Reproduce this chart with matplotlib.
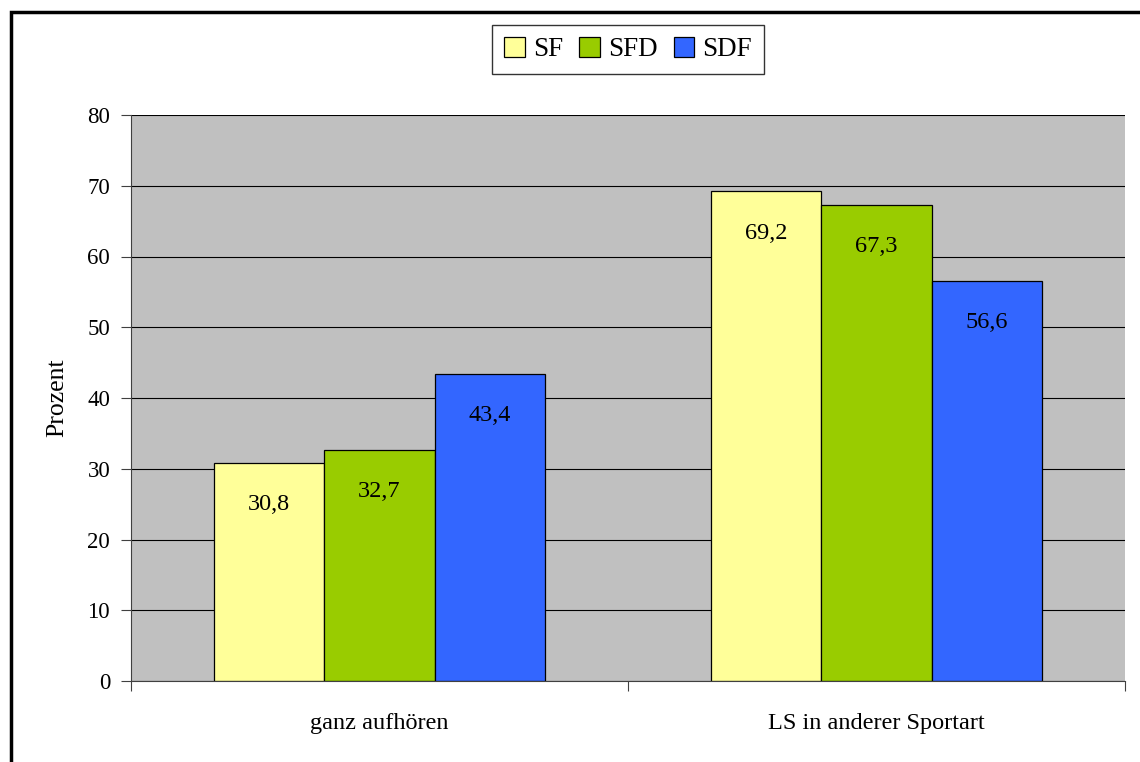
import matplotlib
matplotlib.use("Agg")
import matplotlib.pyplot as plt
from matplotlib.patches import Rectangle
import numpy as np

categories = ["ganz aufhören", "LS in anderer Sportart"]
series_names = ["SF", "SFD", "SDF"]
values_sf = [30.8, 69.2]
values_sfd = [32.7, 67.3]
values_sdf = [43.4, 56.6]
colors = ["#FFFF99", "#99CC00", "#3366FF"]
yticks = [0, 10, 20, 30, 40, 50, 60, 70, 80]

plt.rcParams["font.family"] = ["Liberation Serif", "DejaVu Serif"]

W, H = 1140, 762
fig = plt.figure(figsize=(W / 100, H / 100), dpi=100)

# outer frame (extends past the right and bottom edges)
fig.patches.append(Rectangle((11 / W, -0.05), 1.2, 1 - 12 / H + 0.05,
                             transform=fig.transFigure, fill=False,
                             edgecolor="black", linewidth=2.5))

ax = fig.add_axes([131 / W, (H - 681) / H, 994 / W, 566 / H])
ax.set_facecolor("#C0C0C0")

x = np.arange(len(categories))
bw = 0.2223
series = [values_sf, values_sfd, values_sdf]
for i, (name, vals, col) in enumerate(zip(series_names, series, colors)):
    pos = x + (i - 1) * bw
    bars = ax.bar(pos, vals, width=bw, color=col, edgecolor="black",
                  linewidth=0.9, label=name, zorder=3)
    for b, v in zip(bars, vals):
        ax.annotate(f"{v:.1f}".replace(".", ","),
                    xy=(b.get_x() + b.get_width() / 2, v),
                    xytext=(0, -30), textcoords="offset points",
                    ha="center", va="center", fontsize=17.5, zorder=4)

ax.set_xlim(-0.5, 1.5)
ax.set_ylim(0, 80)
ax.set_yticks(yticks)
ax.yaxis.grid(True, color="black", linewidth=0.8, zorder=1)
ax.set_axisbelow(True)
for s in ["top", "right"]:
    ax.spines[s].set_visible(False)
ax.spines["left"].set_color("#404040")
ax.spines["bottom"].set_color("#404040")
ax.spines["left"].set_zorder(5)
ax.spines["bottom"].set_zorder(5)

ax.set_xticks([-0.5, 0.5, 1.5])
ax.set_xticklabels([])
ax.set_xticks(x, minor=True)
ax.set_xticklabels(categories, minor=True, fontsize=17.5)
ax.tick_params(axis="x", which="major", length=7, direction="out", color="#404040")
ax.tick_params(axis="x", which="minor", length=0, pad=23)
ax.tick_params(axis="y", length=7, direction="out", labelsize=16.5, pad=8, color="#404040")

ax.set_ylabel("Prozent", fontsize=18.5)
ax.yaxis.set_label_coords((68 - 131) / 994, 0.5)

leg = ax.legend(loc="center", bbox_to_anchor=((628 - 131) / 994, 1 + (115 - 49.5) / 566),
                ncol=3, fontsize=19.5, frameon=True, fancybox=False,
                edgecolor="black", handlelength=0.75, handleheight=0.75,
                handletextpad=0.3, columnspacing=0.6, borderpad=0.45)
leg.get_frame().set_linewidth(1.0)

fig.savefig("out.png", dpi=100)
